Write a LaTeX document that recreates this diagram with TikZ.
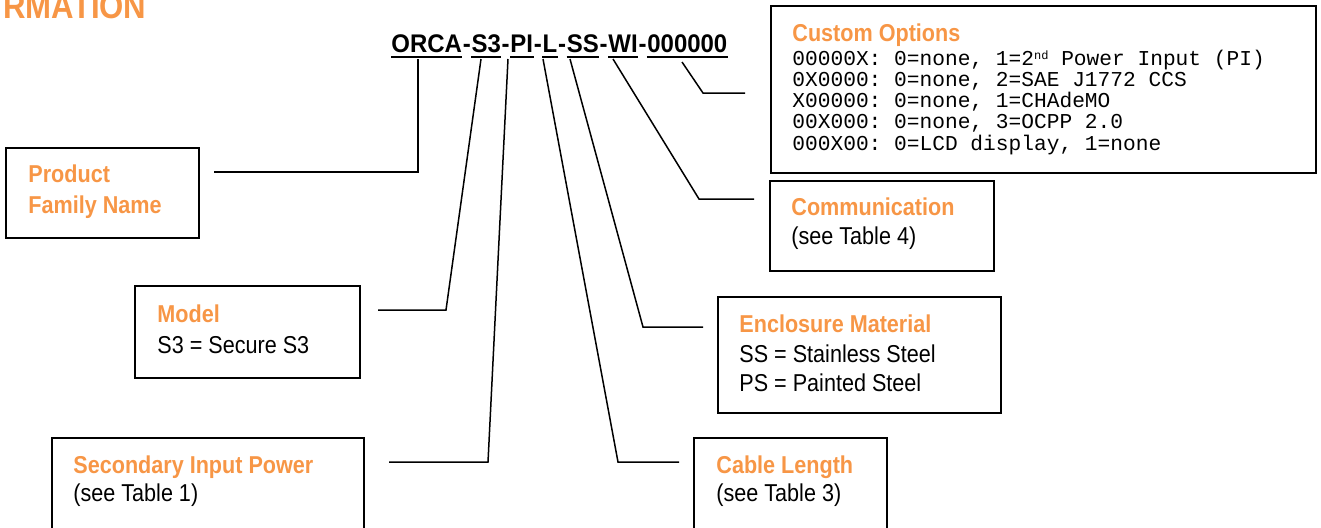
\documentclass[tikz,border=0pt]{standalone}
\usepackage{fontspec}
\setmainfont{Liberation Sans}
\setmonofont{Liberation Mono}
\newfontfamily\condsans{Liberation Sans}[FakeStretch=0.885]
\newfontfamily\codesans{Liberation Sans}[FakeStretch=0.94]
\usetikzlibrary{fit}
\definecolor{accent}{RGB}{247,150,70}
\begin{document}
\begin{tikzpicture}[x=0.5pt,y=-0.5pt,
  box/.style={draw=black, line width=1pt, inner sep=0pt},
  lead/.style={draw=black, line width=0.75pt},
  ttl/.style={anchor=base west, inner sep=0pt, text=accent, font=\condsans\fontsize{12.2}{14}\selectfont\bfseries},
  txt/.style={anchor=base west, inner sep=0pt, font=\condsans\fontsize{12.2}{14}\selectfont},
  cttl/.style={anchor=base west, inner sep=0pt, text=accent, font=\fontsize{10.9}{13}\selectfont\bfseries},
  mono/.style={anchor=base west, inner sep=0pt, font=\fontsize{10.6}{12}\selectfont\ttfamily},
  code/.style={anchor=base west, inner sep=0pt, font=\codesans\fontsize{12.75}{14}\selectfont\bfseries},
  uline/.style={draw=black, line width=1pt}]
\useasboundingbox (0,0) rectangle (1321,527);
\clip (0,0) rectangle (1321,527);

% heading fragment
\node[anchor=base west, inner sep=0pt, text=accent, font=\condsans\fontsize{17.6}{20}\selectfont\bfseries] (hdr) at (3,18) {RMATION};

% part number
\node[code] (orca) at (391,52) {ORCA};
\node[code] (d1) at (orca.base east) {-};
\node[code] (s3) at (d1.base east) {S3};
\node[code] (d2) at (s3.base east) {-};
\node[code] (pi) at (d2.base east) {PI};
\node[code] (d3) at (pi.base east) {-};
\node[code] (ll) at (d3.base east) {L};
\node[code] (d4) at (ll.base east) {-};
\node[code] (ss) at (d4.base east) {SS};
\node[code] (d5) at (ss.base east) {-};
\node[code] (wi) at (d5.base east) {WI};
\node[code] (d6) at (wi.base east) {-};
\node[code] (zz) at (d6.base east) {000000};
\foreach \n in {orca,s3,pi,ll,ss,wi,zz}
  \draw[uline] ([yshift=-2.6pt]\n.base west) -- ([yshift=-2.6pt]\n.base east);

% boxes
\node[box, fit={(6,148) (199,238)}] (pfnbox) {};
\node[box, fit={(135,286) (360,378)}] (modelbox) {};
\node[box, fit={(52,438) (364,545)}] (sipbox) {};
\node[box, fit={(694,438) (887,545)}] (cablebox) {};
\node[box, fit={(718,297) (1001,413)}] (encbox) {};
\node[box, fit={(770,181) (994,271)}] (commbox) {};
\node[box, fit={(771,6) (1316,173)}] (custbox) {};

% box texts
\node[ttl] (pfn1) at (28,182) {Product};
\node[ttl] (pfn2) at (28,213) {Family Name};
\node[ttl] (mod1) at (157,322) {Model};
\node[txt] (mod2) at (157,353) {S3 = Secure S3};
\node[ttl] (sip1) at (73,473) {Secondary Input Power};
\node[txt] (sip2) at (73,501) {(see Table 1)};
\node[ttl] (cab1) at (716,473) {Cable Length};
\node[txt] (cab2) at (716,501) {(see Table 3)};
\node[ttl] (enc1) at (739,332) {Enclosure Material};
\node[txt] (enc2) at (739,362) {SS = Stainless Steel};
\node[txt] (enc3) at (739,391) {PS = Painted Steel};
\node[ttl] (com1) at (791,215) {Communication};
\node[txt] (com2) at (791,244) {(see Table 4)};
\node[ttl] (cus0) at (792,41) {Custom Options};
\node[mono] (cus1) at (792,65) {00000X: 0=none, 1=2{\fontsize{6}{6}\selectfont\raisebox{0.8ex}{nd}} Power Input (PI)};
\node[mono] (cus2) at (792,86.25) {0X0000: 0=none, 2=SAE J1772 CCS};
\node[mono] (cus3) at (792,107.5) {X00000: 0=none, 1=CHAdeMO};
\node[mono] (cus4) at (792,128.75) {00X000: 0=none, 3=OCPP 2.0};
\node[mono] (cus5) at (792,150) {000X00: 0=LCD display, 1=none};

% connectors
\coordinate (pfnA) at (214,172);
\coordinate (orcaT) at (418,59);
\draw[lead] (pfnA) -| (orcaT);

\coordinate (modA) at (378,310);
\coordinate (modB) at (446,310);
\coordinate (s3T) at (481,59);
\draw[lead] (modA) -- (modB) -- (s3T);

\coordinate (sipA) at (389,462);
\coordinate (sipB) at (488,462);
\coordinate (piT) at (508,59);
\draw[lead] (sipA) -- (sipB) -- (piT);

\coordinate (cabA) at (679,462);
\coordinate (cabB) at (618,462);
\coordinate (lT) at (543,59);
\draw[lead] (cabA) -- (cabB) -- (lT);

\coordinate (encA) at (703,327);
\coordinate (encB) at (643,327);
\coordinate (ssT) at (570,59);
\draw[lead] (encA) -- (encB) -- (ssT);

\coordinate (comA) at (754,199);
\coordinate (comB) at (699,199);
\coordinate (wiT) at (613,59);
\draw[lead] (comA) -- (comB) -- (wiT);

\coordinate (cusA) at (745,93);
\coordinate (cusB) at (703,93);
\coordinate (zzT) at (682,62);
\draw[lead] (cusA) -- (cusB) -- (zzT);
\end{tikzpicture}
\end{document}
